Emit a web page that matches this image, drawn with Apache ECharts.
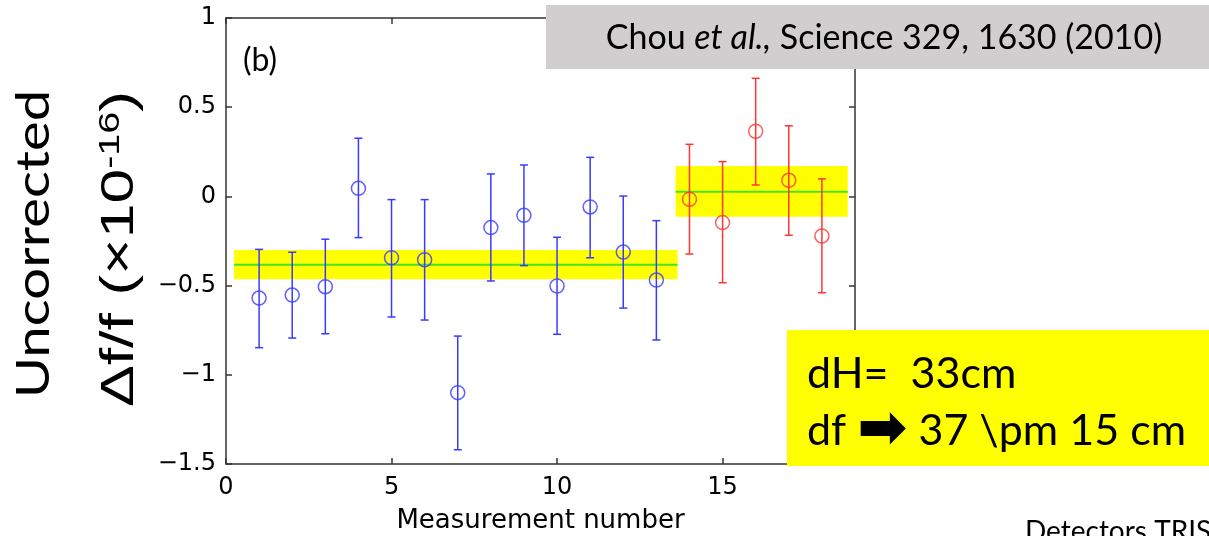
<!DOCTYPE html>
<html>
<head>
<meta charset="utf-8">
<script src="https://cdn.jsdelivr.net/npm/echarts@6/dist/echarts.min.js"></script>
<style>
html,body{margin:0;padding:0;background:#fff;}
#chart{width:1209px;height:536px;}
</style>
</head>
<body>
<div id="chart"></div>
<script>
// ---- data ----
const blueX    = [1, 2, 3, 4, 5, 6, 7, 8, 9, 10, 11, 12, 13];
const blueY    = [-0.57, -0.553, -0.506, 0.045, -0.344, -0.355, -1.10, -0.175, -0.106, -0.502, -0.059, -0.312, -0.469];
const blueHigh = [-0.297, -0.313, -0.24, 0.326, -0.018, -0.018, -0.783, 0.126, 0.176, -0.229, 0.219, 0.002, -0.136];
const blueLow  = [-0.848, -0.794, -0.77, -0.231, -0.676, -0.693, -1.42, -0.474, -0.388, -0.773, -0.344, -0.626, -0.805];

const redX     = [14, 15, 16, 17, 18];
const redY     = [-0.016, -0.147, 0.365, 0.090, -0.222];
const redHigh  = [0.292, 0.195, 0.662, 0.396, 0.098];
const redLow   = [-0.323, -0.484, 0.064, -0.218, -0.54];

const bandStart = [0.24, 13.58];
const bandEnd   = [13.64, 18.78];
const bandLow   = [-0.465, -0.114];
const bandHigh  = [-0.30, 0.170];
const bandMean  = [-0.383, 0.026];

const xTicks = [0, 5, 10, 15];
const yTicks = [-1.5, -1, -0.5, 0, 0.5, 1];

const xLabel = 'Measurement number';
const yLabel1 = 'Uncorrected';
const citation = ['Chou ', 'et al.,', ' Science 329, 1630 (2010)'];
const noteLine1 = 'dH=  33cm';
const noteLine2 = ['df ', '\u27a1', ' 37 \\pm 15 cm'];
const panelTag = '(b)';
const footer = 'Detectors TRIS';

// ---- build ----
const BLUE = '#3a3aff', RED = '#ff3434', GREEN = '#4be02a', YEL = '#ffff00', AX = '#333333';
const zip = (...a) => a[0].map((_, i) => a.map(r => r[i]));
const fmt = v => (yTicks.indexOf(v) >= 0 || xTicks.indexOf(v) >= 0) ? String(v).replace('-', '\u2212') : '';

function errRender(color) {
  return function (params, api) {
    const x = api.value(0);
    const pH = api.coord([x, api.value(1)]);
    const pL = api.coord([x, api.value(2)]);
    const w = 4;
    const st = { stroke: color, lineWidth: 1.5 };
    return { type: 'group', children: [
      { type: 'line', shape: { x1: pH[0], y1: pH[1], x2: pL[0], y2: pL[1] }, style: st },
      { type: 'line', shape: { x1: pH[0] - w, y1: pH[1], x2: pH[0] + w, y2: pH[1] }, style: st },
      { type: 'line', shape: { x1: pL[0] - w, y1: pL[1], x2: pL[0] + w, y2: pL[1] }, style: st }
    ]};
  };
}

const bandData = zip(bandStart, bandEnd, bandLow, bandHigh, bandMean);

const axisCommon = {
  axisLine: { show: true, onZero: false, lineStyle: { color: AX, width: 1.5 } },
  axisTick: { show: true, inside: true, length: 6, lineStyle: { color: AX, width: 1.5 } },
  splitLine: { show: false }
};

const chart = echarts.init(document.getElementById('chart'), null, { renderer: 'canvas' });
chart.setOption({
  animation: false,
  backgroundColor: '#ffffff',
  grid: { left: 226, top: 18, width: 629, height: 446, containLabel: false, outerBoundsMode: 'none' },
  xAxis: [
    Object.assign({}, axisCommon, {
      type: 'value', min: 0, max: 19, interval: 5, position: 'bottom',
      axisLabel: { show: true, formatter: fmt, showMaxLabel: false, color: '#000', fontFamily: 'DejaVu Sans', fontSize: 24, margin: 12 },
      name: xLabel, nameLocation: 'middle', nameGap: 44,
      nameTextStyle: { color: '#000', fontFamily: 'DejaVu Sans', fontSize: 26 }
    }),
    Object.assign({}, axisCommon, {
      type: 'value', min: 0, max: 19, interval: 5, position: 'top',
      axisLabel: { show: false }
    })
  ],
  yAxis: [
    Object.assign({}, axisCommon, {
      type: 'value', min: -1.5, max: 1, interval: 0.5, position: 'left',
      axisLabel: { show: true, formatter: fmt, color: '#000', fontFamily: 'DejaVu Sans', fontSize: 24, margin: 10 }
    }),
    Object.assign({}, axisCommon, {
      type: 'value', min: -1.5, max: 1, interval: 0.5, position: 'right',
      axisLabel: { show: false }
    })
  ],
  series: [
    {
      type: 'custom', name: 'bands', z: 1,
      encode: { x: [0, 1], y: [2, 3] },
      data: bandData,
      renderItem: function (params, api) {
        const p0 = api.coord([api.value(0), api.value(3)]);
        const p1 = api.coord([api.value(1), api.value(2)]);
        const m0 = api.coord([api.value(0), api.value(4)]);
        const m1 = api.coord([api.value(1), api.value(4)]);
        return { type: 'group', children: [
          { type: 'rect', shape: { x: p0[0], y: p0[1], width: p1[0] - p0[0], height: p1[1] - p0[1] }, style: { fill: YEL } },
          { type: 'line', shape: { x1: m0[0], y1: m0[1], x2: m1[0], y2: m1[1] }, style: { stroke: GREEN, lineWidth: 2 } }
        ]};
      }
    },
    { type: 'custom', name: 'blueErr', z: 3, encode: { x: 0, y: [1, 2] }, data: zip(blueX, blueHigh, blueLow), renderItem: errRender(BLUE) },
    { type: 'custom', name: 'redErr', z: 3, encode: { x: 0, y: [1, 2] }, data: zip(redX, redHigh, redLow), renderItem: errRender(RED) },
    { type: 'scatter', name: 'blue', z: 4, symbol: 'circle', symbolSize: 14,
      itemStyle: { color: 'rgba(0,0,0,0)', borderColor: BLUE, borderWidth: 1.5 }, data: zip(blueX, blueY) },
    { type: 'scatter', name: 'red', z: 4, symbol: 'circle', symbolSize: 14,
      itemStyle: { color: 'rgba(0,0,0,0)', borderColor: RED, borderWidth: 1.5 }, data: zip(redX, redY) }
  ],
  graphic: [
    { type: 'text', x: 243, y: 61, z: 10,
      style: { text: panelTag, fill: '#000', font: '32px Lato', textAlign: 'left', textVerticalAlign: 'middle' } },
    { type: 'text', x: 34, y: 244, rotation: Math.PI / 2, scaleX: 1.2, z: 10,
      style: { text: yLabel1, fill: '#000', font: '47px Lato', textAlign: 'center', textVerticalAlign: 'middle' } },
    { type: 'text', x: 120, y: 249, rotation: Math.PI / 2, scaleX: 1.36, z: 10,
      style: {
        text: '{a|\u0394f/f (\u00d710}{s|-16}{a|)}', textAlign: 'center', textVerticalAlign: 'middle',
        rich: {
          a: { fontFamily: 'Liberation Sans', fontSize: 46, fill: '#000', color: '#000' },
          s: { fontFamily: 'Liberation Sans', fontSize: 29, fill: '#000', color: '#000', verticalAlign: 'top', padding: [0, 0, 18, 0] }
        }
      } },
    { type: 'rect', z: 20, shape: { x: 546, y: 5, width: 663, height: 64 }, style: { fill: '#d0cece' } },
    { type: 'text', z: 21, x: 884, y: 38,
      style: {
        text: '{n|' + citation[0] + '}{i|' + citation[1] + '}{n|' + citation[2] + '}',
        textAlign: 'center', textVerticalAlign: 'middle',
        rich: {
          n: { fontFamily: 'Lato', fontSize: 34, fill: '#000', color: '#000' },
          i: { fontFamily: 'Lato', fontSize: 34, fontStyle: 'italic', fill: '#000', color: '#000' }
        }
      } },
    { type: 'rect', z: 20, shape: { x: 787, y: 330, width: 422, height: 136 }, style: { fill: YEL } },
    { type: 'text', z: 21, x: 807, y: 374,
      style: { text: noteLine1, fill: '#000', font: '43px Lato', textAlign: 'left', textVerticalAlign: 'middle' } },
    { type: 'text', z: 21, x: 807, y: 431,
      style: {
        text: '{n|' + noteLine2[0] + '}{a|' + noteLine2[1] + '}{n|' + noteLine2[2] + '}',
        textAlign: 'left', textVerticalAlign: 'middle',
        rich: {
          n: { fontFamily: 'Lato', fontSize: 43, fill: '#000', color: '#000' },
          a: { fontFamily: 'DejaVu Sans', fontWeight: 'bold', fontSize: 60, fill: '#000', color: '#000', verticalAlign: 'middle' }
        }
      } },
    { type: 'text', z: 21, x: 1025, y: 518,
      style: { text: footer, fill: '#000', font: '28px Lato', textAlign: 'left', textVerticalAlign: 'top' } }
  ]
});
</script>
</body>
</html>
